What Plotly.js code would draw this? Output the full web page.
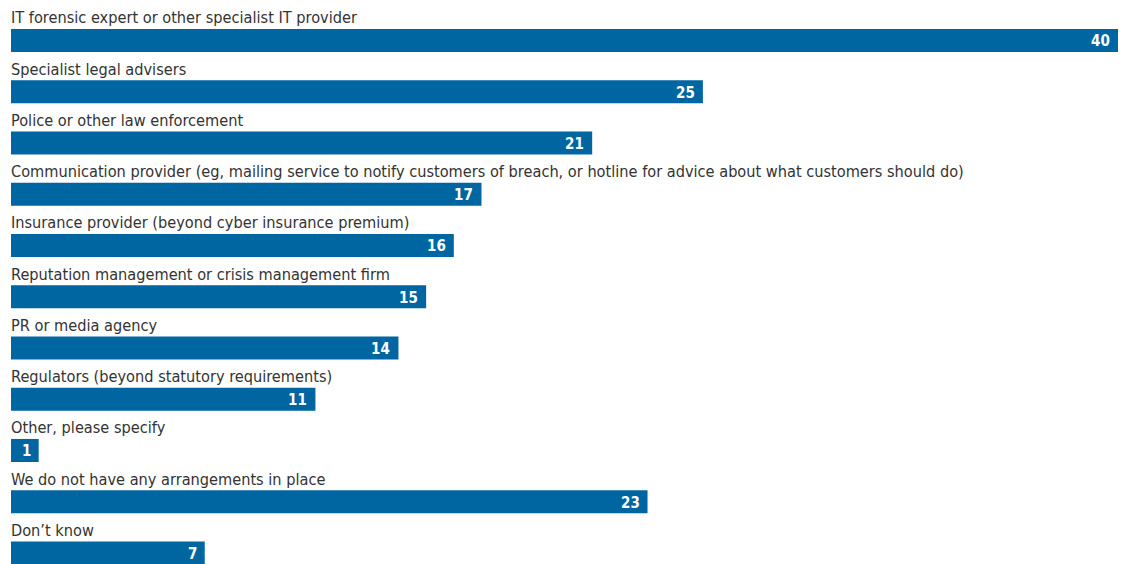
<!DOCTYPE html>
<html><head><meta charset="utf-8">
<script src="https://cdn.plot.ly/plotly-3.0.1.min.js"></script>
<style>html,body{margin:0;padding:0;background:#fff}#chart{width:1130px;height:564px}</style>
</head><body><div id="chart"></div>
<script>
const categories = [
  "IT forensic expert or other specialist IT provider",
  "Specialist legal advisers",
  "Police or other law enforcement",
  "Communication provider (eg, mailing service to notify customers of breach, or hotline for advice about what customers should do)",
  "Insurance provider (beyond cyber insurance premium)",
  "Reputation management or crisis management firm",
  "PR or media agency",
  "Regulators (beyond statutory requirements)",
  "Other, please specify",
  "We do not have any arrangements in place",
  "Don\u2019t know"
];
const values = [40, 25, 21, 17, 16, 15, 14, 11, 1, 23, 7];

const FONT = "'DejaVu Sans Condensed', 'Liberation Sans Narrow', sans-serif";
const idx = categories.map((c, i) => i);

const trace = {
  type: 'bar', orientation: 'h',
  x: values, y: idx,
  width: 0.45,
  marker: {color: '#0066a1'},
  hoverinfo: 'none'
};

const annotations = [];
categories.forEach((c, i) => {
  annotations.push({
    x: 0, y: i, xref: 'x', yref: 'y', text: c, showarrow: false,
    xanchor: 'left', yanchor: 'bottom', yshift: 11, xshift: -2,
    font: {family: FONT, size: 16.2, color: '#333333'}
  });
  annotations.push({
    x: values[i], y: i, xref: 'x', yref: 'y', text: '<b>' + values[i] + '</b>', showarrow: false,
    xanchor: 'right', yanchor: 'middle', xshift: -6, yshift: -1,
    font: {family: FONT, size: 15, color: '#ffffff'}
  });
});

const layout = {
  width: 1130, height: 564,
  margin: {l: 11, r: 12, t: 0, b: 0, pad: 0},
  paper_bgcolor: '#fff', plot_bgcolor: '#fff',
  showlegend: false,
  xaxis: {range: [0, 40], visible: false, fixedrange: true},
  yaxis: {range: [10.215, -0.79], visible: false, fixedrange: true},
  annotations: annotations
};

Plotly.newPlot('chart', [trace], layout, {displayModeBar: false, staticPlot: true});
</script></body></html>
